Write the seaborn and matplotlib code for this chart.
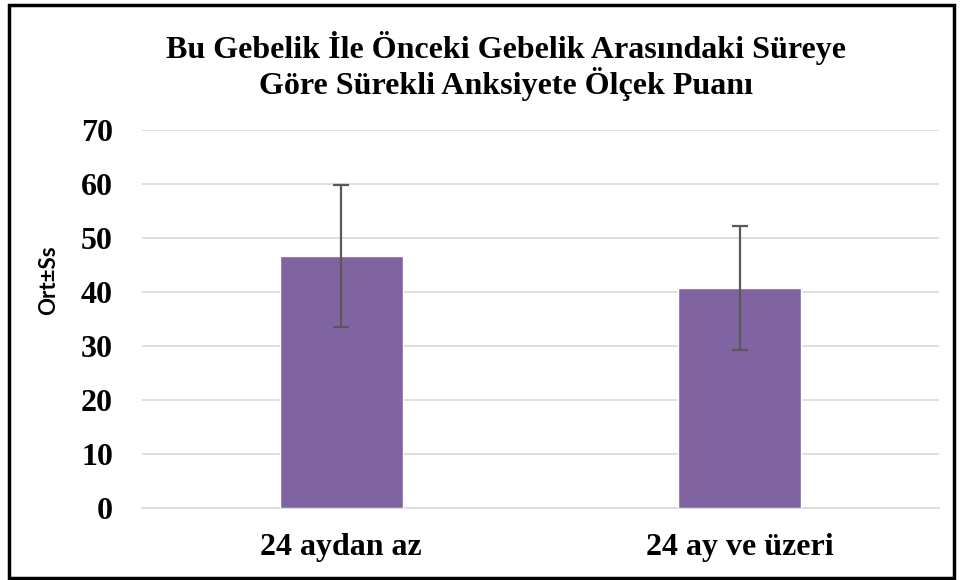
import numpy as np
import pandas as pd
import matplotlib
matplotlib.use("Agg")
import matplotlib.pyplot as plt
import seaborn as sns
from matplotlib.patches import Rectangle

# data
categories = ["24 aydan az", "24 ay ve üzeri"]
means = [46.7, 40.8]
sds = [13.1, 11.5]
yticks = [0, 10, 20, 30, 40, 50, 60, 70]

df = pd.DataFrame({"grup": categories, "ort": means, "ss": sds})

sns.set_style("white")
plt.rcParams["font.family"] = ["Liberation Serif", "DejaVu Serif"]
plt.rcParams["text.color"] = "black"
plt.rcParams["xtick.color"] = "black"
plt.rcParams["ytick.color"] = "black"

fig = plt.figure(figsize=(9.6, 5.8), dpi=100)
ax = fig.add_axes([0.148, 0.124, 0.83, 0.652])

sns.barplot(data=df, x="grup", y="ort", color="#8064A2", width=0.31,
            saturation=1, ax=ax, errorbar=None, zorder=3)
ax.errorbar(x=np.arange(len(df)), y=df["ort"], yerr=df["ss"], fmt="none",
            ecolor="#595959", elinewidth=1.6, capsize=6, capthick=1.6, zorder=4)

ax.set_ylim(0, 70)
ax.set_yticks(yticks)
ax.set_xlim(-0.5, 1.5)
ax.yaxis.grid(True, color="#D9D9D9", linewidth=1.2, zorder=0)
ax.set_axisbelow(True)
for s in ["top", "right", "left"]:
    ax.spines[s].set_visible(False)
ax.spines["bottom"].set_color("#D9D9D9")
ax.spines["bottom"].set_linewidth(1.2)
ax.tick_params(axis="both", length=0)
ax.tick_params(axis="y", pad=21, labelsize=23, labelcolor="black")
ax.tick_params(axis="x", pad=18, labelsize=23, labelcolor="black")
for lbl in ax.get_xticklabels() + ax.get_yticklabels():
    lbl.set_fontweight("bold")

ax.set_xlabel("")
ax.set_ylabel("")
fig.text(0.051, 0.517, "Ort±Ss", rotation=90, ha="center", va="center",
         fontsize=16, fontweight="bold", family=["Lato", "DejaVu Sans"])

fig.text(0.527, 0.886, "Bu Gebelik İle Önceki Gebelik Arasındaki Süreye\nGöre Sürekli Anksiyete Ölçek Puanı",
         ha="center", va="center", fontsize=23, fontweight="bold", linespacing=1.05)

# outer chart frame
fig.patches.append(Rectangle((0.009, 0.004), 0.985, 0.988, transform=fig.transFigure,
                             fill=False, edgecolor="black", linewidth=2.5))

fig.savefig("out.png", dpi=100)
